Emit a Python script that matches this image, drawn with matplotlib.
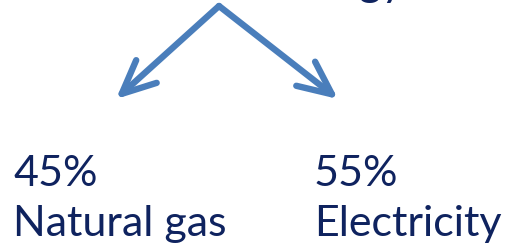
import matplotlib.pyplot as plt
from matplotlib.patches import FancyArrowPatch

shares = [45, 55]
sources = ['Natural gas', 'Electricity']
title = 'Energy'

blue = '#4a7ebb'
navy = '#0f235f'

fig = plt.figure(figsize=(5.06, 2.52), dpi=100)
ax = fig.add_axes([0, 0, 1, 1])
ax.set_xlim(0, 506)
ax.set_ylim(252, 0)
ax.axis('off')

# cut-off heading at the top
ax.text(404, -4, title, ha='right', va='baseline', fontsize=31,
        family='Lato', color=navy)

top = (219, 6)
tips = [(116, 99), (338, 99)]
text_x = [13, 314]

for share, src, tip, tx in zip(shares, sources, tips, text_x):
    arr = FancyArrowPatch(top, tip, arrowstyle='->', mutation_scale=10,
                          color=blue, lw=4.6, capstyle='round',
                          joinstyle='round', shrinkA=0, shrinkB=0)
    arr.set_arrowstyle('->', head_length=2.4, head_width=1.1)
    ax.add_patch(arr)
    ax.text(tx, 186, f'{share}%', ha='left', va='baseline', fontsize=31,
            family='Lato', color=navy)
    ax.text(tx, 236, src, ha='left', va='baseline', fontsize=31,
            family='Lato', color=navy)

fig.savefig('out.png', dpi=100)
